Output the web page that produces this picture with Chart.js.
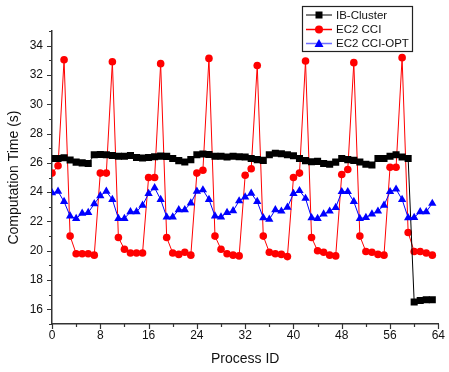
<!DOCTYPE html>
<html>
<head>
<meta charset="utf-8">
<script src="https://cdn.jsdelivr.net/npm/chart.js@4/dist/chart.umd.min.js"></script>
<style>
  html, body { margin: 0; padding: 0; background: #fff; }
  #wrap { width: 449px; height: 372px; position: relative; }
</style>
</head>
<body>
<div id="wrap"><canvas id="chart"></canvas></div>
<script>
// Process IDs on the x axis
const processIds = [
    0, 1, 2, 3, 4, 5, 6, 7, 8, 9, 10, 11, 12, 13, 14, 15,
    16, 17, 18, 19, 20, 21, 22, 23, 24, 25, 26, 27, 28, 29, 30, 31,
    32, 33, 34, 35, 36, 37, 38, 39, 40, 41, 42, 43, 44, 45, 46, 47,
    48, 49, 50, 51, 52, 53, 54, 55, 56, 57, 58, 59, 60, 61, 62, 63
];

const ibCluster = [
    26.3, 26.3, 26.35, 26.2, 26.05, 26.0, 25.95, 26.55,
    26.57, 26.55, 26.5, 26.45, 26.45, 26.5, 26.37, 26.33,
    26.37, 26.42, 26.46, 26.44, 26.3, 26.15, 26.06, 26.22,
    26.55, 26.6, 26.57, 26.45, 26.45, 26.4, 26.45, 26.42,
    26.4, 26.3, 26.22, 26.17, 26.55, 26.66, 26.62, 26.55,
    26.48, 26.3, 26.15, 26.08, 26.1, 25.95, 25.9, 26.05,
    26.3, 26.22, 26.17, 26.06, 25.9, 25.85, 26.3, 26.3,
    26.45, 26.55, 26.4, 26.3, 16.5, 16.6, 16.66, 16.66
];

const ec2Cci = [
    25.3, 25.8, 33.04, 21.0, 19.8, 19.8, 19.8, 19.7,
    25.3, 25.3, 32.9, 20.9, 20.1, 19.85, 19.85, 19.85,
    25.0, 25.0, 32.77, 20.9, 19.85, 19.75, 19.9, 19.7,
    25.3, 25.5, 33.13, 21.0, 20.1, 19.8, 19.7, 19.65,
    25.15, 25.6, 32.65, 21.0, 19.9, 19.8, 19.75, 19.6,
    25.0, 25.3, 32.95, 20.9, 20.0, 19.9, 19.7, 19.65,
    25.2, 25.55, 32.84, 21.0, 19.95, 19.9, 19.75, 19.7,
    25.7, 25.7, 33.18, 21.25, 19.95, 19.95, 19.85, 19.7
];

const ec2CciOpt = [
    23.95, 24.05, 23.35, 22.37, 22.2, 22.55, 22.6, 23.2,
    23.75, 24.05, 23.5, 22.2, 22.2, 22.66, 22.66, 23.1,
    23.9, 24.3, 23.5, 22.3, 22.3, 22.8, 22.8, 23.25,
    24.05, 24.15, 23.5, 22.37, 22.3, 22.6, 22.72, 23.4,
    23.67, 23.92, 23.35, 22.25, 22.14, 22.8, 22.7, 22.96,
    23.9, 24.1, 23.57, 22.25, 22.2, 22.5, 22.7, 22.95,
    24.03, 24.03, 23.35, 22.2, 22.27, 22.5, 22.7, 23.1,
    24.03, 24.2, 23.5, 22.25, 22.27, 22.66, 22.66, 23.23
];

const seriesNames = ['IB-Cluster', 'EC2 CCI', 'EC2 CCI-OPT'];

const FONT = "'Liberation Sans', Arial, sans-serif";

function toPoints(values) {
    return values.map((v, i) => ({ x: processIds[i], y: v }));
}

// Origin style tick marks: long at labelled values, short in between
const axisTicksPlugin = {
    id: 'axisTicks',
    afterDraw(chart) {
        const ctx = chart.ctx;
        const xs = chart.scales.x;
        const ys = chart.scales.y;
        const area = chart.chartArea;
        ctx.save();
        ctx.strokeStyle = '#333';
        ctx.lineWidth = 1.2;
        ctx.beginPath();
        for (let v = 0; v <= 64; v += 4) {
            const px = Math.round(xs.getPixelForValue(v)) + 0.5;
            const len = v % 8 === 0 ? 5 : 3;
            ctx.moveTo(px, area.bottom);
            ctx.lineTo(px, area.bottom + len);
        }
        for (let v = 15; v <= 35; v += 1) {
            const py = Math.round(ys.getPixelForValue(v)) + 0.5;
            const len = v % 2 === 0 ? 5 : 3;
            ctx.moveTo(area.left, py);
            ctx.lineTo(area.left - len, py);
        }
        ctx.stroke();
        ctx.restore();
    }
};

// Boxed legend with line + marker samples
const boxLegendPlugin = {
    id: 'boxLegend',
    afterDraw(chart) {
        const ctx = chart.ctx;
        const box = { x: 302, y: 6, w: 110, h: 45 };
        ctx.save();
        ctx.fillStyle = '#fff';
        ctx.fillRect(box.x, box.y, box.w, box.h);
        ctx.strokeStyle = '#222';
        ctx.lineWidth = 1.2;
        ctx.strokeRect(box.x + 0.5, box.y + 0.5, box.w, box.h);

        ctx.font = '11.5px ' + FONT;
        ctx.textBaseline = 'middle';
        ctx.textAlign = 'left';
        const rows = [15, 29.5, 43.5];
        chart.data.datasets.forEach((ds, i) => {
            const y = rows[i];
            ctx.strokeStyle = ds.legendLine;
            ctx.lineWidth = 1.5;
            ctx.beginPath();
            ctx.moveTo(306, y);
            ctx.lineTo(332, y);
            ctx.stroke();
            ctx.fillStyle = ds.pointBackgroundColor;
            const cx = 319;
            ctx.beginPath();
            if (ds.pointStyle === 'rect') {
                ctx.rect(cx - 3.5, y - 3.5, 7, 7);
            } else if (ds.pointStyle === 'circle') {
                ctx.arc(cx, y, 4, 0, Math.PI * 2);
            } else {
                ctx.moveTo(cx, y - 4.5);
                ctx.lineTo(cx + 4.5, y + 3.5);
                ctx.lineTo(cx - 4.5, y + 3.5);
                ctx.closePath();
            }
            ctx.fill();
            ctx.fillStyle = '#111';
            ctx.fillText(ds.label, 336, y + 0.5);
        });
        ctx.restore();
    }
};

const datasets = [
    {
        label: seriesNames[0],
        data: toPoints(ibCluster),
        borderColor: '#000',
        backgroundColor: '#000',
        pointBackgroundColor: '#000',
        pointBorderColor: '#000',
        legendLine: '#555',
        pointStyle: 'rect',
        pointRadius: 5,
        pointBorderWidth: 0,
        borderWidth: 1,
        order: 2
    },
    {
        label: seriesNames[1],
        data: toPoints(ec2Cci),
        borderColor: '#ff0000',
        backgroundColor: '#ff0000',
        pointBackgroundColor: '#ff0000',
        pointBorderColor: '#ff0000',
        legendLine: '#ff0000',
        pointStyle: 'circle',
        pointRadius: 3.8,
        pointBorderWidth: 0,
        borderWidth: 1,
        order: 3
    },
    {
        label: seriesNames[2],
        data: toPoints(ec2CciOpt),
        borderColor: '#0000ff',
        backgroundColor: '#0000ff',
        pointBackgroundColor: '#0000ff',
        pointBorderColor: '#0000ff',
        legendLine: '#6f6fff',
        pointStyle: 'triangle',
        pointRadius: 4.8,
        pointBorderWidth: 0,
        borderWidth: 1,
        order: 1
    }
];

new Chart(document.getElementById('chart'), {
    type: 'line',
    data: { datasets: datasets },
    options: {
        responsive: true,
        maintainAspectRatio: false,
        animation: false,
        layout: { padding: { top: 31, right: 8, left: 0, bottom: 0 } },
        plugins: {
            legend: { display: false },
            tooltip: { enabled: false }
        },
        scales: {
            x: {
                type: 'linear',
                min: 0,
                max: 64,
                afterFit(scale) { scale.height = 48; },
                grid: { display: false, drawTicks: false },
                border: { display: true, color: '#333', width: 1.5 },
                ticks: {
                    stepSize: 8,
                    autoSkip: false,
                    maxRotation: 0,
                    padding: 4,
                    color: '#111',
                    font: { family: FONT, size: 12 }
                },
                title: {
                    display: true,
                    text: 'Process ID',
                    color: '#111',
                    font: { family: FONT, size: 14 },
                    padding: { top: 0, bottom: 4 }
                }
            },
            y: {
                min: 15,
                max: 35,
                afterFit(scale) { scale.width = 52; },
                grid: { display: false, drawTicks: false },
                border: { display: true, color: '#333', width: 1.5 },
                ticks: {
                    stepSize: 1,
                    autoSkip: false,
                    padding: 9,
                    color: '#111',
                    font: { family: FONT, size: 12 },
                    callback: (v) => (v % 2 === 0 ? v : '')
                },
                title: {
                    display: true,
                    text: 'Computation Time (s)',
                    color: '#111',
                    font: { family: FONT, size: 14 },
                    padding: { top: 6, bottom: 0 }
                }
            }
        }
    },
    plugins: [axisTicksPlugin, boxLegendPlugin]
});
</script>
</body>
</html>
